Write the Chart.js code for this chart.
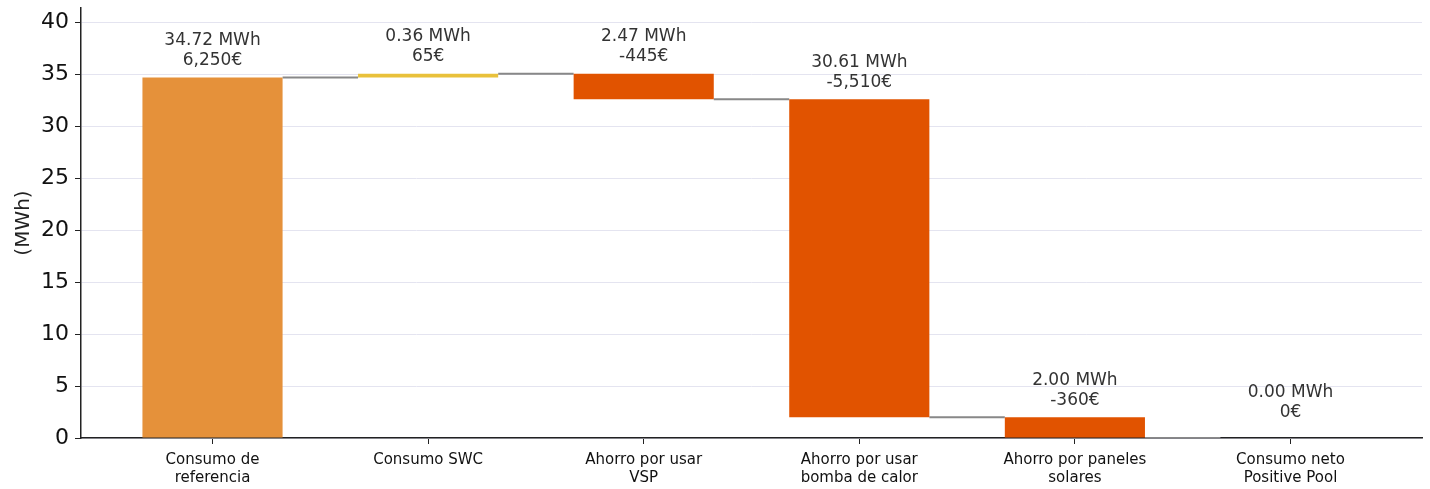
<!DOCTYPE html>
<html>
<head>
<meta charset="utf-8">
<script src="https://cdn.jsdelivr.net/npm/chart.js@4"></script>
<style>
  html, body { margin: 0; padding: 0; background: #fff; overflow: hidden; }
</style>
</head>
<body>
<canvas id="waterfall" width="1430" height="489"></canvas>
<script>
const categories = [
    ['Consumo de', 'referencia'],
    ['Consumo SWC'],
    ['Ahorro por usar', 'VSP'],
    ['Ahorro por usar', 'bomba de calor'],
    ['Ahorro por paneles', 'solares'],
    ['Consumo neto', 'Positive Pool']
];
// energy change per step (MWh); first and last are totals
const energyMWh = [34.72, 0.36, -2.47, -30.61, -2.00, 0.00];
const costEUR = [6250, 65, -445, -5510, -360, 0];
const isTotal = [true, false, false, false, false, true];
const yTicks = [0, 5, 10, 15, 20, 25, 30, 35, 40];

const colTotal = '#e5913a';
const colUp = '#e9c13b';
const colDown = '#e15300';

// build floating bars + connectors from the steps
let level = 0;
const bars = [];
const barColors = [];
const connectors = [];
energyMWh.forEach(function (v, i) {
    let lo, hi;
    if (isTotal[i]) {
        lo = 0; hi = (i === 0) ? v : level;
        level = hi;
        barColors.push(colTotal);
    } else {
        lo = level; hi = level + v;
        level = hi;
        barColors.push(v >= 0 ? colUp : colDown);
    }
    bars.push({ x: i, y: [lo, hi] });
    if (i < energyMWh.length - 1) {
        connectors.push({ x: i + 0.325, y: level });
        connectors.push({ x: i + 0.675, y: level });
        connectors.push({ x: i + 0.5, y: null });
    }
});

const barLabels = {
    id: 'barLabels',
    afterDatasetsDraw(chart) {
        const ctx = chart.ctx;
        const xs = chart.scales.x, ys = chart.scales.y;
        ctx.save();
        ctx.font = '17px "DejaVu Sans"';
        ctx.fillStyle = '#333';
        ctx.textAlign = 'center';
        ctx.textBaseline = 'middle';
        bars.forEach(function (b, i) {
            const top = Math.max(b.y[0], b.y[1], 0.8);
            const px = xs.getPixelForValue(b.x);
            const py = ys.getPixelForValue(top);
            const mwh = isTotal[i] && i > 0 ? b.y[1] : Math.abs(energyMWh[i]);
            ctx.fillText(mwh.toFixed(2) + ' MWh', px, py - 37);
            ctx.fillText(costEUR[i].toLocaleString('en-US') + '€', px, py - 17);
        });
        ctx.restore();
    }
};

new Chart(document.getElementById('waterfall'), {
    type: 'bar',
    data: {
        datasets: [
            {
                type: 'bar',
                data: bars,
                backgroundColor: barColors,
                borderWidth: 0,
                categoryPercentage: 1,
                barPercentage: 0.65,
                order: 1
            },
            {
                type: 'line',
                data: connectors,
                borderColor: '#888888',
                borderWidth: 2,
                pointRadius: 0,
                spanGaps: false,
                order: 2
            }
        ]
    },
    options: {
        responsive: false,
        devicePixelRatio: 1,
        animation: false,
        layout: { padding: { left: 0, right: 8, top: 8, bottom: 0 } },
        plugins: { legend: { display: false }, tooltip: { enabled: false } },
        scales: {
            x: {
                type: 'linear',
                offset: false,
                min: -0.61,
                max: 5.61,
                afterBuildTicks: function (scale) {
                    scale.ticks = categories.map(function (_, i) { return { value: i }; });
                },
                afterFit: function (scale) {
                    scale.height = 51;
                    scale.paddingLeft = 0;
                    scale.paddingRight = 0;
                },
                ticks: {
                    autoSkip: false,
                    maxRotation: 0,
                    padding: 7,
                    color: '#111',
                    font: { family: 'DejaVu Sans', size: 15 },
                    callback: function (v) { return categories[v]; }
                },
                grid: {
                    offset: false,
                    drawOnChartArea: false,
                    drawTicks: true,
                    tickLength: 6,
                    tickColor: '#222'
                },
                border: { color: '#222', width: 1.5 }
            },
            y: {
                min: 0,
                max: 41.4,
                afterBuildTicks: function (scale) {
                    scale.ticks = yTicks.map(function (v) { return { value: v }; });
                },
                afterFit: function (scale) {
                    scale.width = 81;
                    scale.paddingTop = 0;
                    scale.paddingBottom = 0;
                },
                title: {
                    display: true,
                    text: '(MWh)',
                    color: '#222',
                    font: { family: 'DejaVu Sans', size: 20 },
                    padding: { top: 12, bottom: 0 }
                },
                ticks: {
                    padding: 6,
                    color: '#111',
                    font: { family: 'DejaVu Sans', size: 22 }
                },
                grid: {
                    color: '#e4e4f0',
                    lineWidth: 1,
                    tickLength: 6,
                    tickColor: '#222'
                },
                border: { color: '#222', width: 1.5 }
            }
        }
    },
    plugins: [barLabels]
});
</script>
</body>
</html>
